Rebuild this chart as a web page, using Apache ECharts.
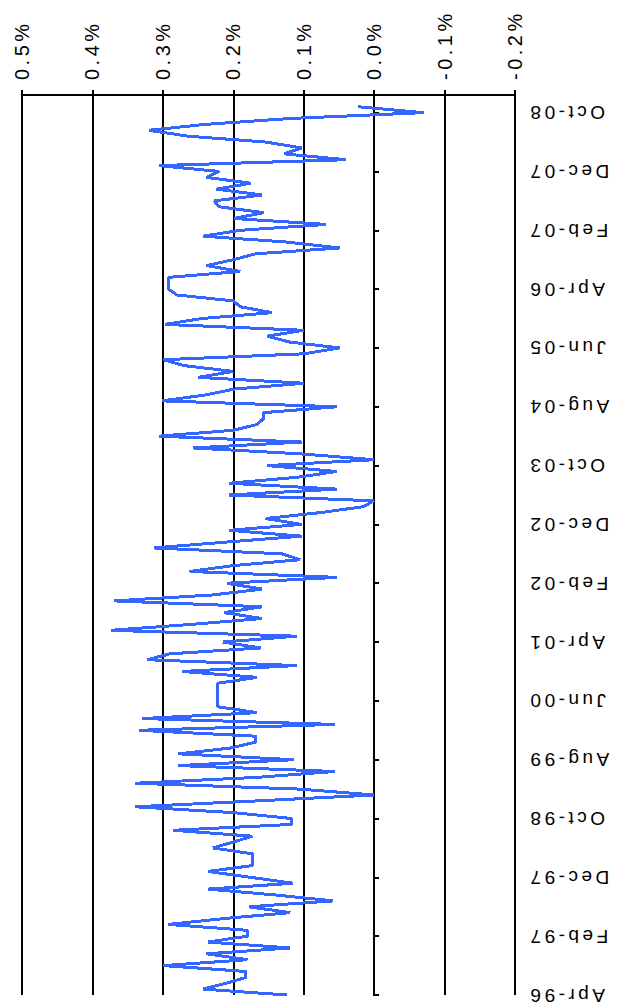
<!DOCTYPE html>
<html>
<head>
<meta charset="utf-8">
<script src="https://cdn.jsdelivr.net/npm/echarts@6/dist/echarts.min.js"></script>
<style>
  html, body { margin: 0; padding: 0; background: #ffffff; }
  #chart { width: 618px; height: 1006px; }
  #chart text { letter-spacing: 3.5px; }
  #chart path { shape-rendering: crispEdges; }
</style>
</head>
<body>
<div id="chart"></div>
<script>
// Monthly values (%), Apr-96 .. Nov-08
const values = [
  0.124, 0.243, 0.210, 0.182, 0.182, 0.299, 0.180, 0.238, 0.119, 0.236,
  0.180, 0.180, 0.292, 0.213, 0.119, 0.178, 0.058, 0.140, 0.236, 0.115,
  0.175, 0.236, 0.173, 0.173, 0.173, 0.229, 0.200, 0.173, 0.285, 0.117,
  0.117, 0.200, 0.339, 0.166, 0.000, 0.105, 0.339, 0.166, 0.056, 0.278,
  0.114, 0.278, 0.203, 0.168, 0.168, 0.334, 0.056, 0.329, 0.166, 0.222,
  0.222, 0.222, 0.222, 0.222, 0.166, 0.273, 0.110, 0.322, 0.290, 0.161,
  0.215, 0.110, 0.374, 0.260, 0.159, 0.213, 0.159, 0.369, 0.230, 0.159,
  0.209, 0.053, 0.262, 0.200, 0.105, 0.131, 0.313, 0.210, 0.103, 0.206,
  0.103, 0.154, 0.077, 0.016, 0.000, 0.206, 0.053, 0.206, 0.110, 0.053,
  0.152, 0.000, 0.105, 0.257, 0.103, 0.306, 0.200, 0.166, 0.157, 0.157,
  0.053, 0.301, 0.240, 0.199, 0.100, 0.250, 0.200, 0.270, 0.299, 0.100,
  0.049, 0.120, 0.152, 0.100, 0.297, 0.245, 0.145, 0.190, 0.200, 0.280,
  0.292, 0.292, 0.292, 0.190, 0.238, 0.200, 0.168, 0.049, 0.124, 0.243,
  0.190, 0.068, 0.199, 0.157, 0.220, 0.227, 0.159, 0.224, 0.175, 0.238,
  0.220, 0.306, 0.040, 0.128, 0.103, 0.154, 0.264, 0.320, 0.240, 0.120,
  -0.070, 0.023
];
const monthNames = ['Jan','Feb','Mar','Apr','May','Jun','Jul','Aug','Sep','Oct','Nov','Dec'];
const startMonth = 3, startYear = 1996, monthCount = 154; // Apr-96 .. Jan-09 axis span
const categories = [];
for (let i = 0; i < monthCount; i++) {
  const m = (startMonth + i) % 12;
  const y = startYear + Math.floor((startMonth + i) / 12);
  categories.push(monthNames[m] + '-' + String(y % 100).padStart(2, '0'));
}
const valueMin = -0.2, valueMax = 0.5, valueStep = 0.1;

const chart = echarts.init(document.getElementById('chart'), null, { renderer: 'svg' });
chart.setOption({
  animation: false,
  backgroundColor: '#ffffff',
  grid: { left: 22, right: 103, top: 95, bottom: 11, containLabel: false },
  xAxis: {
    type: 'value',
    position: 'top',
    inverse: true,
    min: valueMin,
    max: valueMax,
    interval: valueStep,
    axisLine: { show: true, lineStyle: { color: '#000', width: 2 } },
    axisTick: { show: true, inside: false, length: 5, lineStyle: { color: '#000', width: 2 } },
    splitLine: { show: true, lineStyle: { color: '#000', width: 2 } },
    axisLabel: {
      rotate: -90,
      margin: 15,
      color: '#000',
      fontFamily: 'Liberation Sans',
      fontSize: 20,
      formatter: v => (Math.abs(v) < 1e-9 ? 0 : v).toFixed(1) + '%'
    }
  },
  yAxis: {
    type: 'category',
    position: 'right',
    boundaryGap: false,
    data: categories,
    axisLine: { show: true, lineStyle: { color: '#000', width: 2 } },
    axisTick: { show: true, inside: false, length: 5, interval: 9, lineStyle: { color: '#000', width: 2 } },
    splitLine: { show: false },
    axisLabel: {
      interval: 9,
      rotate: 180,
      margin: 12,
      color: '#000',
      fontFamily: 'Liberation Sans',
      fontSize: 19
    }
  },
  series: [{
    type: 'line',
    data: values,
    showSymbol: false,
    symbol: 'none',
    lineStyle: { color: '#3366ff', width: 3 },
    smooth: false
  }]
});
</script>
</body>
</html>
